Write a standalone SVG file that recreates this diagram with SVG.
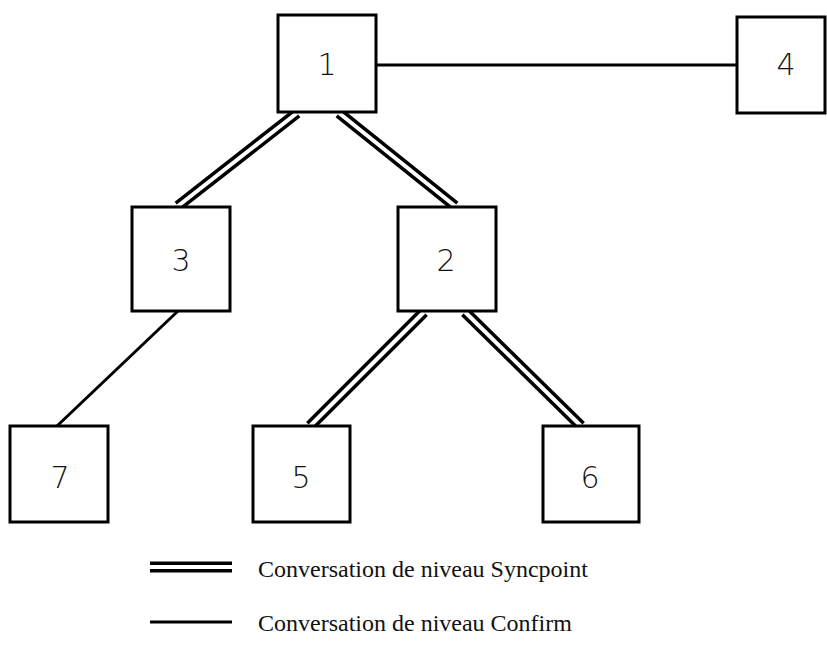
<svg xmlns="http://www.w3.org/2000/svg" width="827" height="646" viewBox="0 0 827 646">
<style>
.box{fill:#fff;stroke:#000;stroke-width:3}
.num{font-family:"DejaVu Sans","Liberation Sans",sans-serif;font-size:30px;font-weight:200;text-anchor:middle;fill:#111}
.single{stroke:#000;stroke-width:3;fill:none}
.dblo{stroke:#000;stroke-width:11;fill:none}
.dbli{stroke:#fff;stroke-width:4;fill:none}
.leg{font-family:"Liberation Serif","Times New Roman",serif;font-size:24px;fill:#111}
</style>
<g id="connectors">
<line class="single" x1="376" y1="65" x2="737" y2="65"/>
<line class="single" x1="178" y1="311" x2="57" y2="426"/>
<g id="c1-3"><line class="dblo" x1="297" y1="113" x2="178" y2="206"/><line class="dbli" x1="297" y1="113" x2="178" y2="206"/></g>
<g id="c1-2"><line class="dblo" x1="339" y1="113" x2="455" y2="206"/><line class="dbli" x1="339" y1="113" x2="455" y2="206"/></g>
<g id="c2-5"><line class="dblo" x1="424" y1="312" x2="310" y2="426"/><line class="dbli" x1="424" y1="312" x2="310" y2="426"/></g>
<g id="c2-6"><line class="dblo" x1="465" y1="312" x2="581" y2="426"/><line class="dbli" x1="465" y1="312" x2="581" y2="426"/></g>
</g>
<g id="n1"><rect class="box" x="278" y="15" width="98" height="97"/><text class="num" x="327" y="75">1</text></g>
<g id="n4"><rect class="box" x="737" y="17" width="88" height="96"/><text class="num" x="786" y="75">4</text></g>
<g id="n3"><rect class="box" x="132" y="207" width="98" height="104"/><text class="num" x="181" y="271">3</text></g>
<g id="n2"><rect class="box" x="398" y="207" width="98" height="104"/><text class="num" x="446" y="271">2</text></g>
<g id="n7"><rect class="box" x="10" y="426" width="98" height="96"/><text class="num" x="60" y="488">7</text></g>
<g id="n5"><rect class="box" x="253" y="426" width="97" height="96"/><text class="num" x="301" y="488">5</text></g>
<g id="n6"><rect class="box" x="543" y="426" width="96" height="96"/><text class="num" x="590" y="488">6</text></g>
<g id="legend">
<line class="dblo" x1="150" y1="567" x2="232" y2="567"/><line class="dbli" x1="150" y1="567" x2="232" y2="567"/>
<line class="single" x1="150" y1="622" x2="232" y2="622"/>
<text class="leg" x="258" y="577">Conversation de niveau Syncpoint</text>
<text class="leg" x="258" y="631">Conversation de niveau Confirm</text>
</g>
</svg>
